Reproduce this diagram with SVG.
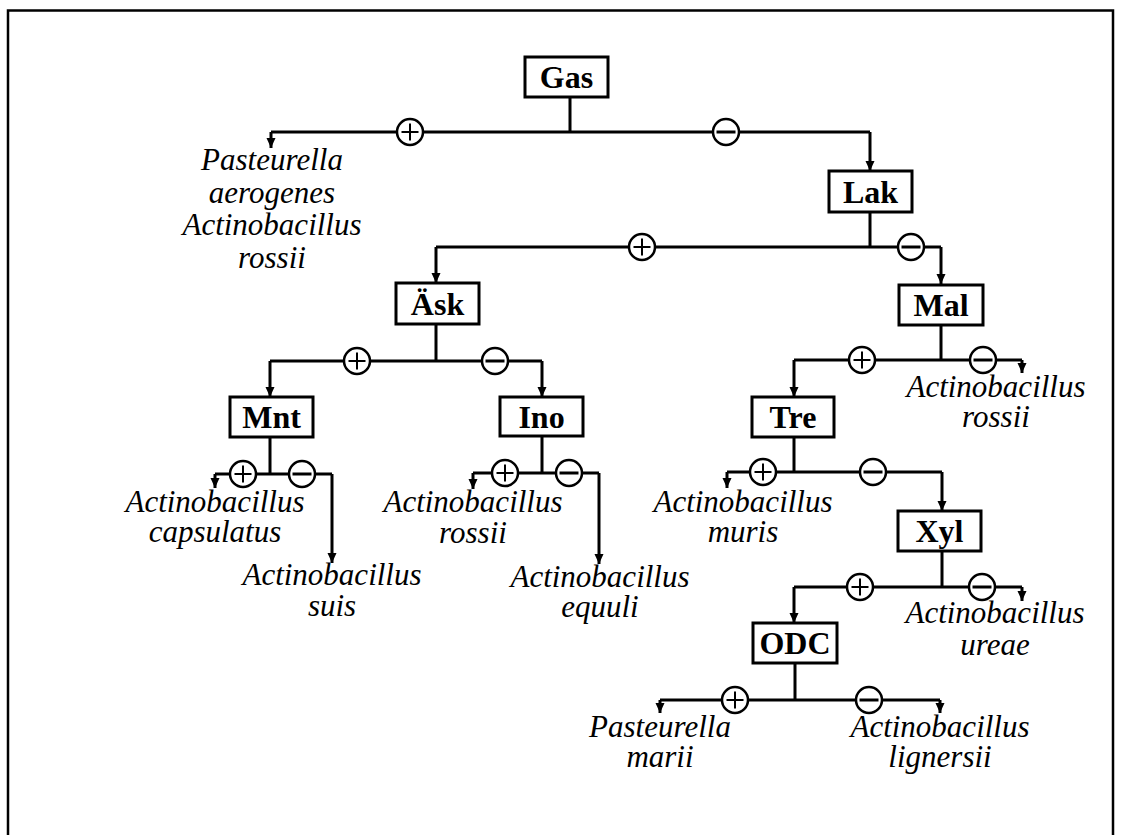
<svg xmlns="http://www.w3.org/2000/svg" width="1121" height="835" viewBox="0 0 1121 835">
  <style>
    .frame { fill: none; stroke: #000; stroke-width: 2.5; }
    .box rect { fill: #fff; stroke: #000; stroke-width: 3; }
    .box text { font-family: "Liberation Serif", "Times New Roman", serif; font-weight: bold; font-size: 32px; text-anchor: middle; fill: #000; }
    .leaf text { font-family: "Liberation Serif", "Times New Roman", serif; font-style: italic; font-size: 31px; text-anchor: middle; fill: #000; }
    .wire { fill: none; stroke: #000; stroke-width: 3; }
    .drop { fill: none; stroke: #000; stroke-width: 3; marker-end: url(#tip); }
  </style>
  <defs>
    <marker id="tip" markerUnits="userSpaceOnUse" markerWidth="10" markerHeight="10" refX="10" refY="4.5" orient="auto" viewBox="0 0 10 9">
      <path d="M0,0 L10,4.5 L0,9 z" fill="#000"/>
    </marker>
    <!-- branch sign symbols: outcome of the test -->
    <g id="plus">
      <circle r="13" fill="#fff" stroke="#000" stroke-width="2.5"/>
      <line x1="-8.5" y1="0" x2="8.5" y2="0" stroke="#000" stroke-width="2"/>
      <line x1="0" y1="-8.5" x2="0" y2="8.5" stroke="#000" stroke-width="2"/>
    </g>
    <g id="minus">
      <circle r="13" fill="#fff" stroke="#000" stroke-width="2.5"/>
      <line x1="-9.5" y1="0" x2="9.5" y2="0" stroke="#000" stroke-width="3"/>
    </g>
  </defs>

  <rect class="frame" x="8" y="10.5" width="1105" height="860"/>

  <!-- connectors -->
  <g id="connectors">
    <path class="wire" d="M570,97 V132 M271,132 H870"/>
    <path class="drop" d="M271,132 V148"/>
    <path class="drop" d="M870,132 V171"/>

    <path class="wire" d="M870,212 V247 M436,247 H941"/>
    <path class="drop" d="M436,247 V283"/>
    <path class="drop" d="M941,247 V284"/>

    <path class="wire" d="M436,324 V361 M270,361 H542"/>
    <path class="drop" d="M270,361 V397"/>
    <path class="drop" d="M542,361 V397"/>

    <path class="wire" d="M941,325 V360 M794,360 H1022"/>
    <path class="drop" d="M794,360 V397"/>
    <path class="drop" d="M1022,360 V373"/>

    <path class="wire" d="M270,437 V474 M215,474 H332"/>
    <path class="drop" d="M215,474 V488"/>
    <path class="drop" d="M332,474 V563"/>

    <path class="wire" d="M542,436 V473 M473,473 H599"/>
    <path class="drop" d="M473,473 V489"/>
    <path class="drop" d="M599,473 V564"/>

    <path class="wire" d="M794,437 V472 M727,472 H942"/>
    <path class="drop" d="M727,472 V488"/>
    <path class="drop" d="M942,472 V511"/>

    <path class="wire" d="M942,551 V587 M794,587 H1022"/>
    <path class="drop" d="M794,587 V623"/>
    <path class="drop" d="M1022,587 V601"/>

    <path class="wire" d="M795,663 V700 M660,700 H940"/>
    <path class="drop" d="M660,700 V713"/>
    <path class="drop" d="M940,700 V713"/>

    <!-- branch signs -->
    <g class="sign">
      <use href="#plus" x="410" y="132"/>
      <use href="#minus" x="726" y="132"/>
      <use href="#plus" x="642" y="247"/>
      <use href="#minus" x="911" y="247"/>
      <use href="#plus" x="357" y="361"/>
      <use href="#minus" x="495" y="361"/>
      <use href="#plus" x="862" y="360"/>
      <use href="#minus" x="983" y="360"/>
      <use href="#plus" x="243" y="474"/>
      <use href="#minus" x="302" y="474"/>
      <use href="#plus" x="505" y="473"/>
      <use href="#minus" x="569" y="473"/>
      <use href="#plus" x="763" y="472"/>
      <use href="#minus" x="873" y="472"/>
      <use href="#plus" x="860" y="587"/>
      <use href="#minus" x="982" y="587"/>
      <use href="#plus" x="735" y="700"/>
      <use href="#minus" x="869" y="700"/>
    </g>
  </g>

  <!-- test nodes -->
  <g id="gas" class="box"><rect x="525" y="57" width="83" height="40"/><text x="566.5" y="88">Gas</text></g>
  <g id="lak" class="box"><rect x="829" y="171" width="83" height="41"/><text x="870.5" y="203">Lak</text></g>
  <g id="ask" class="box"><rect x="396" y="283" width="83" height="41"/><text x="437.5" y="315">Äsk</text></g>
  <g id="mal" class="box"><rect x="899" y="285" width="84" height="40"/><text x="941" y="316">Mal</text></g>
  <g id="mnt" class="box"><rect x="230" y="397" width="83" height="40"/><text x="271.5" y="428">Mnt</text></g>
  <g id="ino" class="box"><rect x="500" y="397" width="83" height="39"/><text x="541.5" y="428">Ino</text></g>
  <g id="tre" class="box"><rect x="752" y="397" width="82" height="40"/><text x="793" y="428">Tre</text></g>
  <g id="xyl" class="box"><rect x="898" y="511" width="83" height="40"/><text x="939.5" y="542">Xyl</text></g>
  <g id="odc" class="box"><rect x="753" y="623" width="84" height="40"/><text x="795" y="654">ODC</text></g>

  <!-- organism leaves -->
  <g id="leaf-gas-pos" class="leaf">
    <text x="272" y="170">Pasteurella</text>
    <text x="272" y="203">aerogenes</text>
    <text x="272" y="235">Actinobacillus</text>
    <text x="272" y="268">rossii</text>
  </g>
  <g id="leaf-mal-neg" class="leaf">
    <text x="996" y="397">Actinobacillus</text>
    <text x="996" y="427">rossii</text>
  </g>
  <g id="leaf-mnt-pos" class="leaf">
    <text x="215" y="512">Actinobacillus</text>
    <text x="215" y="542">capsulatus</text>
  </g>
  <g id="leaf-mnt-neg" class="leaf">
    <text x="332" y="585">Actinobacillus</text>
    <text x="332" y="616">suis</text>
  </g>
  <g id="leaf-ino-pos" class="leaf">
    <text x="473" y="512">Actinobacillus</text>
    <text x="473" y="543">rossii</text>
  </g>
  <g id="leaf-ino-neg" class="leaf">
    <text x="600" y="587">Actinobacillus</text>
    <text x="600" y="617">equuli</text>
  </g>
  <g id="leaf-tre-pos" class="leaf">
    <text x="743" y="512">Actinobacillus</text>
    <text x="743" y="542">muris</text>
  </g>
  <g id="leaf-xyl-neg" class="leaf">
    <text x="995" y="623">Actinobacillus</text>
    <text x="995" y="655">ureae</text>
  </g>
  <g id="leaf-odc-pos" class="leaf">
    <text x="660" y="737">Pasteurella</text>
    <text x="660" y="767">marii</text>
  </g>
  <g id="leaf-odc-neg" class="leaf">
    <text x="940" y="737">Actinobacillus</text>
    <text x="940" y="767">lignersii</text>
  </g>
</svg>
